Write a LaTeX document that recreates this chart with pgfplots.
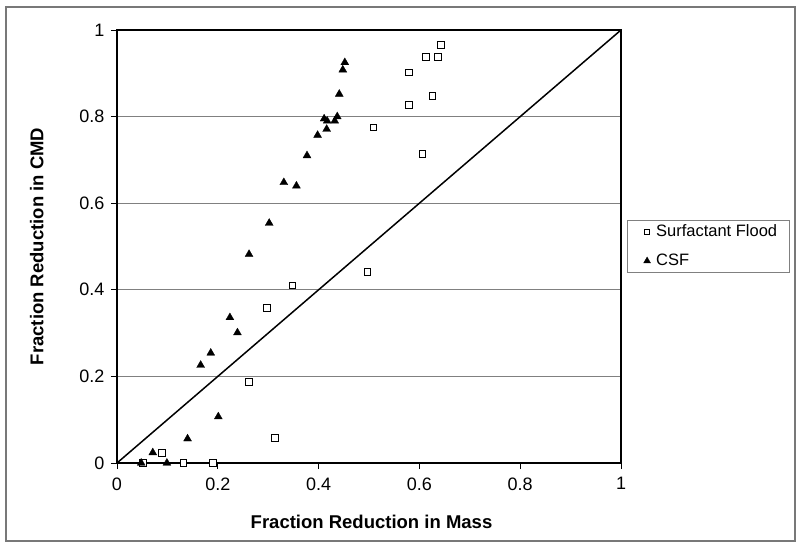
\documentclass[border=0pt]{standalone}
\usepackage{pgfplots}
\pgfplotsset{compat=1.18}
\usepackage{fontspec}
\setmainfont{Liberation Sans}
\definecolor{gridgray}{RGB}{128,128,128}
\definecolor{framegray}{RGB}{120,120,120}
\begin{document}
\begin{tikzpicture}[x=1pt,y=1pt]
\path[use as bounding box] (0,0) rectangle (800,547);
\draw[framegray, line width=1.3pt] (6,6) rectangle (795,540);
\begin{axis}[
  at={(117pt,84pt)}, anchor=south west,
  scale only axis, width=504pt, height=433pt,
  xmin=0, xmax=1, ymin=0, ymax=1,
  clip=false,
  axis line style={draw=none},
  xtick={0,0.2,0.4,0.6,0.8,1}, ytick={0,0.2,0.4,0.6,0.8,1},
  xticklabels={0,0.2,0.4,0.6,0.8,1}, yticklabels={0,0.2,0.4,0.6,0.8,1},
  xtick pos=bottom, ytick pos=left,
  tick align=outside, major tick length=6pt,
  tick style={black, line width=0.8pt},
  ymajorgrids, grid style={gridgray, line width=1pt},
  /pgf/number format/assume math mode=true,
  ticklabel style={font=\fontsize{18}{21}\selectfont, text=black},
  xticklabel style={yshift=-5pt},
  yticklabel style={xshift=-3pt},
  xlabel={Fraction Reduction in Mass},
  ylabel={Fraction Reduction in CMD},
  label style={font=\bfseries\fontsize{18.5}{21}\selectfont},
  xlabel style={at={(axis description cs:0.505,0)}, anchor=base, yshift=-65pt},
  ylabel style={at={(axis description cs:-0.1462,0.5)}, anchor=base, rotate=0},
  legend style={at={(1.0113,0.561)}, anchor=north west, draw=gridgray, line width=0.8pt,
    font=\fontsize{16.5}{19}\selectfont, row sep=12pt, inner xsep=10pt, inner ysep=2.5pt},
  legend cell align=left,
  legend image code/.code={\path[draw=none] (0pt,0pt) (17pt,0pt); \draw[#1] plot coordinates {(10pt,0pt)};},
]
\draw[black, line width=2.6pt] (rel axis cs:0,0) rectangle (rel axis cs:1,1);
\addplot[black, line width=1.5pt, forget plot] coordinates {(0,0) (1,1)};
\addplot[only marks, mark=square*, mark size=3.4pt, mark options={fill=white, draw=black, line width=0.9pt},
  legend image post style={mark size=2.7pt, mark options={fill=white, draw=black, line width=0.8pt}}] coordinates {
(0.052,0) (0.132,0) (0.190,0) (0.089,0.024) (0.314,0.058) (0.262,0.188)
(0.297,0.359) (0.348,0.410) (0.497,0.441) (0.509,0.775) (0.606,0.714)
(0.579,0.827) (0.626,0.847) (0.580,0.902) (0.613,0.938) (0.637,0.937) (0.642,0.965)
};
\addlegendentry{Surfactant Flood}
\addplot[only marks, mark=triangle*, mark size=4.6pt, mark options={fill=black, draw=black, line width=0.3pt},
  legend image post style={mark size=4pt}] coordinates {
(0.048,0) (0.099,0) (0.071,0.024) (0.140,0.056) (0.201,0.107) (0.166,0.226)
(0.186,0.254) (0.239,0.301) (0.224,0.336) (0.262,0.482) (0.302,0.554)
(0.356,0.640) (0.331,0.648) (0.377,0.710) (0.398,0.757) (0.416,0.771)
(0.432,0.790) (0.417,0.790) (0.411,0.795) (0.437,0.800) (0.441,0.852)
(0.448,0.908) (0.452,0.925)
};
\addlegendentry{CSF}
\end{axis}
\end{tikzpicture}
\end{document}
